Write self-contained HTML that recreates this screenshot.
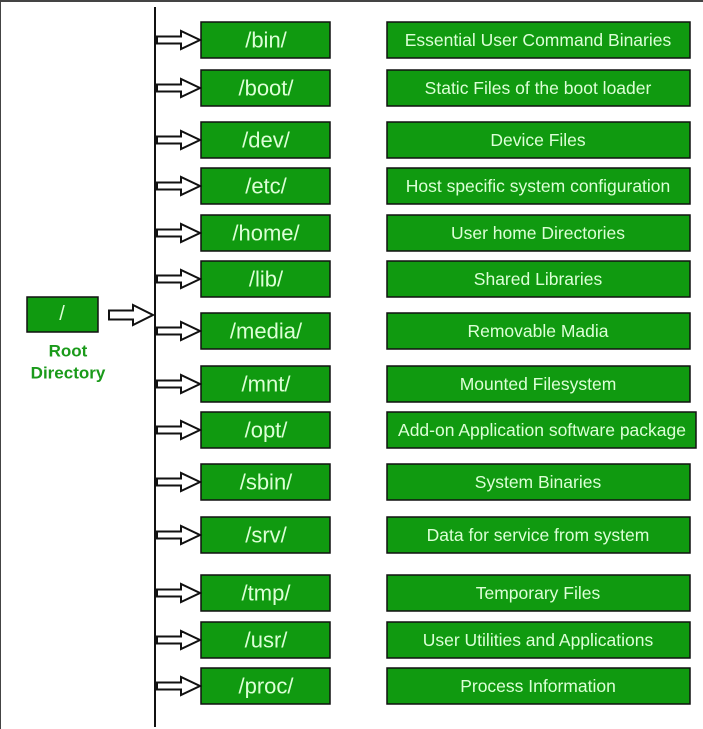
<!DOCTYPE html>
<html><head><meta charset="utf-8"><style>
html,body{margin:0;padding:0;background:#fff;}
svg{display:block}
text{font-family:"Liberation Sans",Arial,sans-serif;fill:#dcffd6;text-anchor:middle;dominant-baseline:central}
</style></head><body>
<svg width="703" height="729" viewBox="0 0 703 729" xmlns="http://www.w3.org/2000/svg">
<defs>
<polygon id="ar" points="157,-3.5 181,-3.5 181,-9 200,0 181,9 181,3.5 157,3.5" fill="#fff" stroke="#111" stroke-width="2"/>
</defs>
<rect x="0" y="0" width="703" height="729" fill="#fff"/>
<rect x="0" y="0" width="703" height="2" fill="#444"/>
<rect x="0" y="0" width="1" height="729" fill="#444"/>
<line x1="155" y1="7" x2="155" y2="727" stroke="#111" stroke-width="2"/>
<rect x="27" y="297" width="71" height="35" fill="#109a10" stroke="#111" stroke-width="1.5"/>
<text x="62" y="314" style="font-size:20px">/</text>
<text x="68" y="351" style="font-size:17px;font-weight:bold;fill:#1a9a1a">Root</text>
<text x="68" y="373" style="font-size:17px;font-weight:bold;fill:#1a9a1a">Directory</text>
<polygon points="109,310.5 133,310.5 133,305 153,315 133,325 133,319.5 109,319.5" fill="#fff" stroke="#111" stroke-width="2"/>
<g stroke="#111" stroke-width="1.5" fill="#109a10">
<rect x="201" y="22" width="129" height="36"/><rect x="387" y="22" width="303" height="36"/>
<rect x="201" y="70" width="129" height="36"/><rect x="387" y="70" width="303" height="36"/>
<rect x="201" y="122" width="129" height="36"/><rect x="387" y="122" width="303" height="36"/>
<rect x="201" y="168" width="129" height="36"/><rect x="387" y="168" width="303" height="36"/>
<rect x="201" y="215" width="129" height="36"/><rect x="387" y="215" width="303" height="36"/>
<rect x="201" y="261" width="129" height="36"/><rect x="387" y="261" width="303" height="36"/>
<rect x="201" y="313" width="129" height="36"/><rect x="387" y="313" width="303" height="36"/>
<rect x="201" y="366" width="129" height="36"/><rect x="387" y="366" width="303" height="36"/>
<rect x="201" y="412" width="129" height="36"/><rect x="387" y="412" width="309" height="36"/>
<rect x="201" y="464" width="129" height="36"/><rect x="387" y="464" width="303" height="36"/>
<rect x="201" y="517" width="129" height="36"/><rect x="387" y="517" width="303" height="36"/>
<rect x="201" y="575" width="129" height="36"/><rect x="387" y="575" width="303" height="36"/>
<rect x="201" y="622" width="129" height="36"/><rect x="387" y="622" width="303" height="36"/>
<rect x="201" y="668" width="129" height="36"/><rect x="387" y="668" width="303" height="36"/>
</g>
<use href="#ar" y="40"/><use href="#ar" y="88"/><use href="#ar" y="140"/><use href="#ar" y="186"/>
<use href="#ar" y="233"/><use href="#ar" y="279"/><use href="#ar" y="331"/><use href="#ar" y="384"/>
<use href="#ar" y="430"/><use href="#ar" y="482"/><use href="#ar" y="535"/><use href="#ar" y="593"/>
<use href="#ar" y="640"/><use href="#ar" y="686"/>
<g style="font-size:22px">
<text x="266" y="40">/bin/</text>
<text x="266" y="88">/boot/</text>
<text x="266" y="140">/dev/</text>
<text x="266" y="186">/etc/</text>
<text x="266" y="233">/home/</text>
<text x="266" y="279">/lib/</text>
<text x="266" y="331">/media/</text>
<text x="266" y="384">/mnt/</text>
<text x="266" y="430">/opt/</text>
<text x="266" y="482">/sbin/</text>
<text x="266" y="535">/srv/</text>
<text x="266" y="593">/tmp/</text>
<text x="266" y="640">/usr/</text>
<text x="266" y="686">/proc/</text>
</g>
<g style="font-size:17.5px">
<text x="538" y="40">Essential User Command Binaries</text>
<text x="538" y="88">Static Files of the boot loader</text>
<text x="538" y="140">Device Files</text>
<text x="538" y="186">Host specific system configuration</text>
<text x="538" y="233">User home Directories</text>
<text x="538" y="279">Shared Libraries</text>
<text x="538" y="331">Removable Madia</text>
<text x="538" y="384">Mounted Filesystem</text>
<text x="542" y="430">Add-on Application software package</text>
<text x="538" y="482">System Binaries</text>
<text x="538" y="535">Data for service from system</text>
<text x="538" y="593">Temporary Files</text>
<text x="538" y="640">User Utilities and Applications</text>
<text x="538" y="686">Process Information</text>
</g>
</svg>
</body></html>
